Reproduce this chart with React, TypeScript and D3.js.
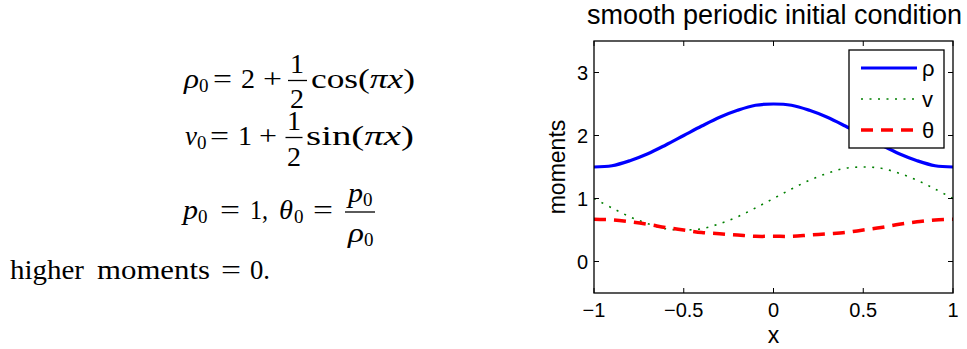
import React from 'react';
import * as d3 from 'd3';

// sample points
const xs = [-1, -0.9, -0.8, -0.7, -0.6, -0.5, -0.4, -0.3, -0.2, -0.1, 0, 0.1, 0.2, 0.3, 0.4, 0.5, 0.6, 0.7, 0.8, 0.9, 1];
const rho = [1.5, 1.52, 1.6, 1.71, 1.85, 2.0, 2.15, 2.29, 2.4, 2.48, 2.5, 2.48, 2.4, 2.29, 2.15, 2.0, 1.85, 1.71, 1.6, 1.52, 1.5];
const vel = [1.0, 0.85, 0.71, 0.6, 0.52, 0.5, 0.52, 0.6, 0.71, 0.85, 1.0, 1.15, 1.29, 1.4, 1.48, 1.5, 1.48, 1.4, 1.29, 1.15, 1.0];
const theta = [0.67, 0.66, 0.63, 0.59, 0.54, 0.5, 0.46, 0.44, 0.42, 0.4, 0.4, 0.4, 0.42, 0.44, 0.46, 0.5, 0.54, 0.59, 0.63, 0.66, 0.67];

const xTicks = [-1, -0.5, 0, 0.5, 1];
const xTickLabels = ['\u22121', '\u22120.5', '0', '0.5', '1'];
const yTicks = [0, 1, 2, 3];
const yTickLabels = ['0', '1', '2', '3'];

const series = [
  { name: '\u03c1', values: rho, color: '#0000ff', width: 3.2, dash: null },
  { name: 'v', values: vel, color: '#008000', width: 1.6, dash: '2,6.5' },
  { name: '\u03b8', values: theta, color: '#ff0000', width: 3.5, dash: '12,8' },
];

const W = 967;
const H = 349;
const plot = { left: 594, right: 953, top: 41, bottom: 293 };

const serif = '"Liberation Serif", "Times New Roman", serif';
const sans = '"Liberation Sans", Arial, Helvetica, sans-serif';

// a run of math text stretched to the width it has in the reference
function T(props: { x: number; y: number; w?: number; it?: boolean; size?: number; anchor?: string; children: React.ReactNode }) {
  const { x, y, w, it, size, anchor, children } = props;
  return (
    <text
      x={x}
      y={y}
      fontSize={size}
      fontStyle={it ? 'italic' : undefined}
      textAnchor={anchor}
      textLength={w}
      lengthAdjust={w ? 'spacingAndGlyphs' : undefined}
    >
      {children}
    </text>
  );
}

function MathBlock() {
  const sub = 19;
  const bar = { stroke: '#000', strokeWidth: 1.3 };
  return (
    <g fontFamily={serif} fontSize={28} fill="#000">
      {/* rho_0 = 2 + 1/2 cos(pi x) */}
      <T x={184} y={88} w={15} it>ρ</T>
      <T x={199} y={92} size={sub}>0</T>
      <T x={213} y={88} w={19}>=</T>
      <T x={241} y={88}>2</T>
      <T x={263} y={88} w={19}>+</T>
      <T x={297} y={73} anchor="middle">1</T>
      <line x1={288} x2={307} y1={80.5} y2={80.5} {...bar} />
      <T x={297} y={108} anchor="middle">2</T>
      <text x={311} y={88} textLength={104} lengthAdjust="spacingAndGlyphs">
        cos(<tspan fontStyle="italic">πx</tspan>)
      </text>

      {/* v_0 = 1 + 1/2 sin(pi x) */}
      <T x={185} y={145} w={12} it>v</T>
      <T x={197} y={149} size={sub}>0</T>
      <T x={210} y={145} w={19}>=</T>
      <T x={238} y={145}>1</T>
      <T x={259} y={145} w={18}>+</T>
      <T x={294} y={130} anchor="middle">1</T>
      <line x1={285.5} x2={302.5} y1={137.5} y2={137.5} {...bar} />
      <T x={294} y={166} anchor="middle">2</T>
      <text x={306} y={145} textLength={108} lengthAdjust="spacingAndGlyphs">
        sin(<tspan fontStyle="italic">πx</tspan>)
      </text>

      {/* p_0 = 1, theta_0 = p_0 / rho_0 */}
      <T x={183} y={219} w={15} it>p</T>
      <T x={198} y={223} size={sub}>0</T>
      <T x={220} y={219} w={20}>=</T>
      <T x={250} y={219} w={18}>1,</T>
      <T x={279} y={219} w={14} it>θ</T>
      <T x={294} y={223} size={sub}>0</T>
      <T x={313} y={219} w={20}>=</T>
      <T x={348} y={202} w={15} it>p</T>
      <T x={363} y={206} size={sub}>0</T>
      <line x1={345} x2={375} y1={212} y2={212} {...bar} />
      <T x={348} y={242} w={16} it>ρ</T>
      <T x={364} y={246} size={sub}>0</T>

      {/* higher moments = 0. */}
      <T x={10} y={279} w={74}>higher</T>
      <T x={97} y={279} w={113}>moments</T>
      <T x={221} y={279} w={20}>=</T>
      <T x={250} y={279} w={20}>0.</T>
    </g>
  );
}

export default function App() {
  const x = d3.scaleLinear().domain([-1, 1]).range([plot.left, plot.right]);
  const y = d3.scaleLinear().domain([-0.5, 3.5]).range([plot.bottom, plot.top]);

  const line = (vals: number[]) =>
    d3
      .line<number>()
      .x((_, i) => x(xs[i]))
      .y((d) => y(d))
      .curve(d3.curveCatmullRom)(vals) || '';

  const tk = 5;
  const midX = (plot.left + plot.right) / 2;
  const midY = (plot.top + plot.bottom) / 2;

  const legend = { x: 849, y: 50, w: 95, h: 98 };
  const legendRows = [68, 99, 130];

  return (
    <svg
      width={W}
      height={H}
      style={{ position: 'absolute', left: 0, top: 0, display: 'block', background: '#fff' }}
    >
      <rect width={W} height={H} fill="#fff" />
      <MathBlock />

      <defs>
        <clipPath id="plotClip">
          <rect x={plot.left} y={plot.top} width={plot.right - plot.left} height={plot.bottom - plot.top} />
        </clipPath>
      </defs>

      {/* title */}
      <text x={midX + 1} y={24} textAnchor="middle" fontFamily={sans} fontSize={27} fill="#000">
        smooth periodic initial condition
      </text>

      {/* curves */}
      <g clipPath="url(#plotClip)">
        {series.map((s) => (
          <path
            key={s.name}
            d={line(s.values)}
            fill="none"
            stroke={s.color}
            strokeWidth={s.width}
            strokeDasharray={s.dash || undefined}
          />
        ))}
      </g>

      {/* axes box and ticks */}
      <rect
        x={plot.left}
        y={plot.top}
        width={plot.right - plot.left}
        height={plot.bottom - plot.top}
        fill="none"
        stroke="#000"
        strokeWidth={1.3}
      />
      {xTicks.map((t, i) => (
        <g key={'xt' + t}>
          <line x1={x(t)} x2={x(t)} y1={plot.bottom} y2={plot.bottom - tk} stroke="#000" />
          <line x1={x(t)} x2={x(t)} y1={plot.top} y2={plot.top + tk} stroke="#000" />
          <text x={x(t)} y={317} textAnchor="middle" fontFamily={sans} fontSize={20} fill="#000">
            {xTickLabels[i]}
          </text>
        </g>
      ))}
      {yTicks.map((t, i) => (
        <g key={'yt' + t}>
          <line x1={plot.left} x2={plot.left + tk} y1={y(t)} y2={y(t)} stroke="#000" />
          <line x1={plot.right} x2={plot.right - tk} y1={y(t)} y2={y(t)} stroke="#000" />
          <text x={588} y={y(t) + 7} textAnchor="end" fontFamily={sans} fontSize={20} fill="#000">
            {yTickLabels[i]}
          </text>
        </g>
      ))}

      {/* axis labels */}
      <text x={midX} y={343} textAnchor="middle" fontFamily={sans} fontSize={23} fill="#000">
        x
      </text>
      <text
        transform={`translate(565,${midY}) rotate(-90)`}
        textAnchor="middle"
        fontFamily={sans}
        fontSize={23}
        fill="#000"
      >
        moments
      </text>

      {/* legend */}
      <rect x={legend.x} y={legend.y} width={legend.w} height={legend.h} fill="#fff" stroke="#000" strokeWidth={1.3} />
      {series.map((s, i) => (
        <g key={'lg' + s.name}>
          <line
            x1={861}
            x2={917}
            y1={legendRows[i]}
            y2={legendRows[i]}
            stroke={s.color}
            strokeWidth={s.width}
            strokeDasharray={s.dash || undefined}
          />
          <text x={922} y={legendRows[i] + 8} fontFamily={sans} fontSize={22} fill="#000">
            {s.name}
          </text>
        </g>
      ))}
    </svg>
  );
}
